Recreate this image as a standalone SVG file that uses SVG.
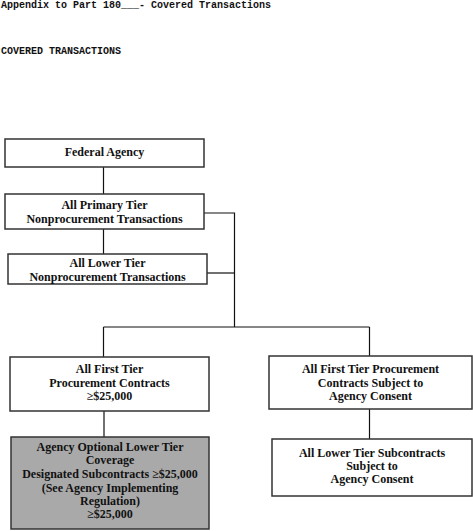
<svg xmlns="http://www.w3.org/2000/svg" width="473" height="531" viewBox="0 0 473 531">
<style>
.hdr{font-family:"Liberation Mono",monospace;font-weight:bold;font-size:10px;fill:#111}
.box{fill:#fff;stroke:#333;stroke-width:1.5}
.gray{fill:#a9a9a9;stroke:#333;stroke-width:1.5}
.t{font-family:"Liberation Serif",serif;font-weight:bold;font-size:12px;fill:#111;text-anchor:middle}
.ln{stroke:#111;stroke-width:1.2;fill:none}
</style>
<rect width="473" height="531" fill="#fff"/>
<text class="hdr" x="1" y="8">Appendix to Part 180___- Covered Transactions</text>
<text class="hdr" x="1" y="54">COVERED TRANSACTIONS</text>
<g id="connectors">
<path class="ln" d="M103.5 167V194"/>
<path class="ln" d="M103.5 229V254"/>
<path class="ln" d="M204 213H234.5V327"/>
<path class="ln" d="M207 273H234.5"/>
<path class="ln" d="M103.5 327H369.5"/>
<path class="ln" d="M103.5 327V357"/>
<path class="ln" d="M369.5 327V356"/>
<path class="ln" d="M104 411V437"/>
<path class="ln" d="M369.5 409V439"/>
</g>
<g id="federal-agency">
<rect class="box" x="5" y="139" width="199" height="28"/>
<text class="t" x="104.5" y="156">Federal Agency</text>
</g>
<g id="primary-tier">
<rect class="box" x="5" y="194" width="199" height="35"/>
<text class="t" x="104.5" y="209">All Primary Tier</text>
<text class="t" x="104.5" y="223">Nonprocurement Transactions</text>
</g>
<g id="lower-tier">
<rect class="box" x="8" y="254" width="199" height="30"/>
<text class="t" x="107.5" y="267">All Lower Tier</text>
<text class="t" x="107.5" y="281">Nonprocurement Transactions</text>
</g>
<g id="first-tier-procurement">
<rect class="box" x="10" y="357" width="199" height="54"/>
<text class="t" x="109.5" y="373">All First Tier</text>
<text class="t" x="109.5" y="387">Procurement Contracts</text>
<text class="t" x="109.5" y="400">≥$25,000</text>
</g>
<g id="optional-lower-tier">
<rect class="gray" x="11" y="437" width="198" height="92"/>
<text class="t" x="110" y="451">Agency Optional Lower Tier</text>
<text class="t" x="110" y="464">Coverage</text>
<text class="t" x="110" y="478">Designated Subcontracts ≥$25,000</text>
<text class="t" x="110" y="492">(See Agency Implementing</text>
<text class="t" x="110" y="505">Regulation)</text>
<text class="t" x="110" y="518">≥$25,000</text>
</g>
<g id="first-tier-consent">
<rect class="box" x="269" y="356" width="203" height="53"/>
<text class="t" x="370.5" y="373">All First Tier Procurement</text>
<text class="t" x="370.5" y="387">Contracts Subject to</text>
<text class="t" x="370.5" y="400">Agency Consent</text>
</g>
<g id="lower-tier-consent">
<rect class="box" x="272" y="439" width="200" height="57"/>
<text class="t" x="372" y="457">All Lower Tier Subcontracts</text>
<text class="t" x="372" y="470">Subject to</text>
<text class="t" x="372" y="483">Agency Consent</text>
</g>
</svg>
